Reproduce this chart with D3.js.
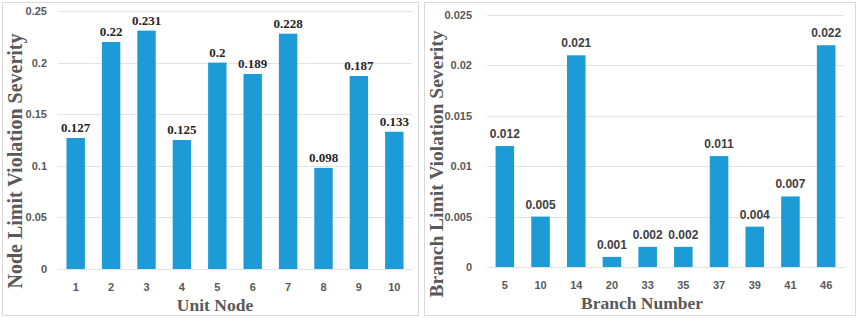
<!DOCTYPE html>
<html lang="en">
<head>
  <meta charset="UTF-8">
  <title>Limit Violation Severity</title>
  <script src="https://d3js.org/d3.v7.min.js"></script>
  <style>
    body { margin: 0; background: #fff; }
    svg { display: block; }
    .tick-label { font-family: "Liberation Sans", Arial, sans-serif; font-weight: bold; font-size: 11px; fill: #595959; }
    .axis-title { font-family: "Liberation Serif", "Times New Roman", serif; font-weight: bold; fill: #595959; }
  </style>
</head>
<body>
  <svg width="858" height="318"></svg>
  <script>
    // left panel
    const nodeCats = ['1', '2', '3', '4', '5', '6', '7', '8', '9', '10'];
    const nodeVals = [0.127, 0.22, 0.231, 0.125, 0.2, 0.189, 0.228, 0.098, 0.187, 0.133];
    const nodeTicks = [0, 0.05, 0.1, 0.15, 0.2, 0.25];
    const nodeTickLabels = ['0', '0.05', '0.1', '0.15', '0.2', '0.25'];

    // right panel
    const branchCats = ['5', '10', '14', '20', '33', '35', '37', '39', '41', '46'];
    const branchVals = [0.012, 0.005, 0.021, 0.001, 0.002, 0.002, 0.011, 0.004, 0.007, 0.022];
    const branchTicks = [0, 0.005, 0.01, 0.015, 0.02, 0.025];
    const branchTickLabels = ['0', '0.005', '0.01', '0.015', '0.02', '0.025'];

    const barColor = '#1c9bd7';
    const svg = d3.select('svg');

    function drawPanel(o) {
      const g = svg.append('g');
      g.append('rect')
        .attr('x', o.box[0] + 0.5).attr('y', o.box[1] + 0.5)
        .attr('width', o.box[2]).attr('height', o.box[3])
        .attr('fill', 'none').attr('stroke', '#d9d9d9');

      const x = d3.scaleBand().domain(o.cats).range(o.xr).paddingInner(0.48).paddingOuter(0.24);
      const y = d3.scaleLinear().domain([0, o.ticks[o.ticks.length - 1]]).range(o.yr);

      g.selectAll('.grid').data(o.ticks).enter().append('line')
        .attr('x1', o.xr[0]).attr('x2', o.xr[1])
        .attr('y1', d => Math.round(y(d)) + 0.5).attr('y2', d => Math.round(y(d)) + 0.5)
        .attr('stroke', '#e3e3e3').attr('stroke-width', 1);

      g.selectAll('.ytick').data(o.ticks).enter().append('text')
        .attr('class', 'tick-label')
        .attr('x', o.xr[0] - o.tickGap).attr('y', d => y(d) + 4)
        .attr('text-anchor', 'end')
        .text((d, i) => o.tickLabels[i]);

      g.selectAll('.bar').data(o.vals).enter().append('rect')
        .attr('x', (d, i) => x(o.cats[i]))
        .attr('y', d => y(d))
        .attr('width', x.bandwidth())
        .attr('height', d => y(0) - y(d))
        .attr('fill', barColor);

      g.selectAll('.xtick').data(o.cats).enter().append('text')
        .attr('class', 'tick-label')
        .attr('x', d => x(d) + x.bandwidth() / 2).attr('y', y(0) + 22)
        .attr('text-anchor', 'middle')
        .text(d => d);

      g.selectAll('.vlabel').data(o.vals).enter().append('text')
        .attr('x', (d, i) => x(o.cats[i]) + x.bandwidth() / 2)
        .attr('y', d => y(d) - o.labelGap)
        .attr('text-anchor', 'middle')
        .attr('font-family', o.labelFont)
        .attr('font-weight', 'bold')
        .attr('font-size', o.labelSize)
        .attr('fill', o.labelColor)
        .text(d => String(d));

      g.append('text')
        .attr('class', 'axis-title')
        .attr('x', o.xTitle[0]).attr('y', o.xTitle[1])
        .attr('text-anchor', 'middle')
        .attr('font-size', '17.5px')
        .text(o.xLabel);

      g.append('text')
        .attr('class', 'axis-title')
        .attr('transform', `translate(${o.yTitle[0]},${o.yTitle[1]}) rotate(-90)`)
        .attr('text-anchor', 'middle')
        .attr('font-size', o.yTitleSize)
        .text(o.yLabel);
    }

    drawPanel({
      box: [2, 2, 416, 313],
      cats: nodeCats, vals: nodeVals, ticks: nodeTicks, tickLabels: nodeTickLabels,
      xr: [58, 412], yr: [269, 11], tickGap: 11,
      labelFont: '"Liberation Serif", "Times New Roman", serif', labelSize: '13px', labelColor: '#262626', labelGap: 6,
      xLabel: 'Unit Node', xTitle: [215, 311],
      yLabel: 'Node Limit Violation Severity', yTitle: [22, 161], yTitleSize: '20px'
    });

    drawPanel({
      box: [424, 2, 431, 313],
      cats: branchCats, vals: branchVals, ticks: branchTicks, tickLabels: branchTickLabels,
      xr: [487, 844], yr: [267, 15], tickGap: 15,
      labelFont: '"Liberation Sans", Arial, sans-serif', labelSize: '12px', labelColor: '#404040', labelGap: 8,
      xLabel: 'Branch Number', xTitle: [642, 309],
      yLabel: 'Branch Limit Violation Severity', yTitle: [443, 164], yTitleSize: '19.5px'
    });
  </script>
</body>
</html>
